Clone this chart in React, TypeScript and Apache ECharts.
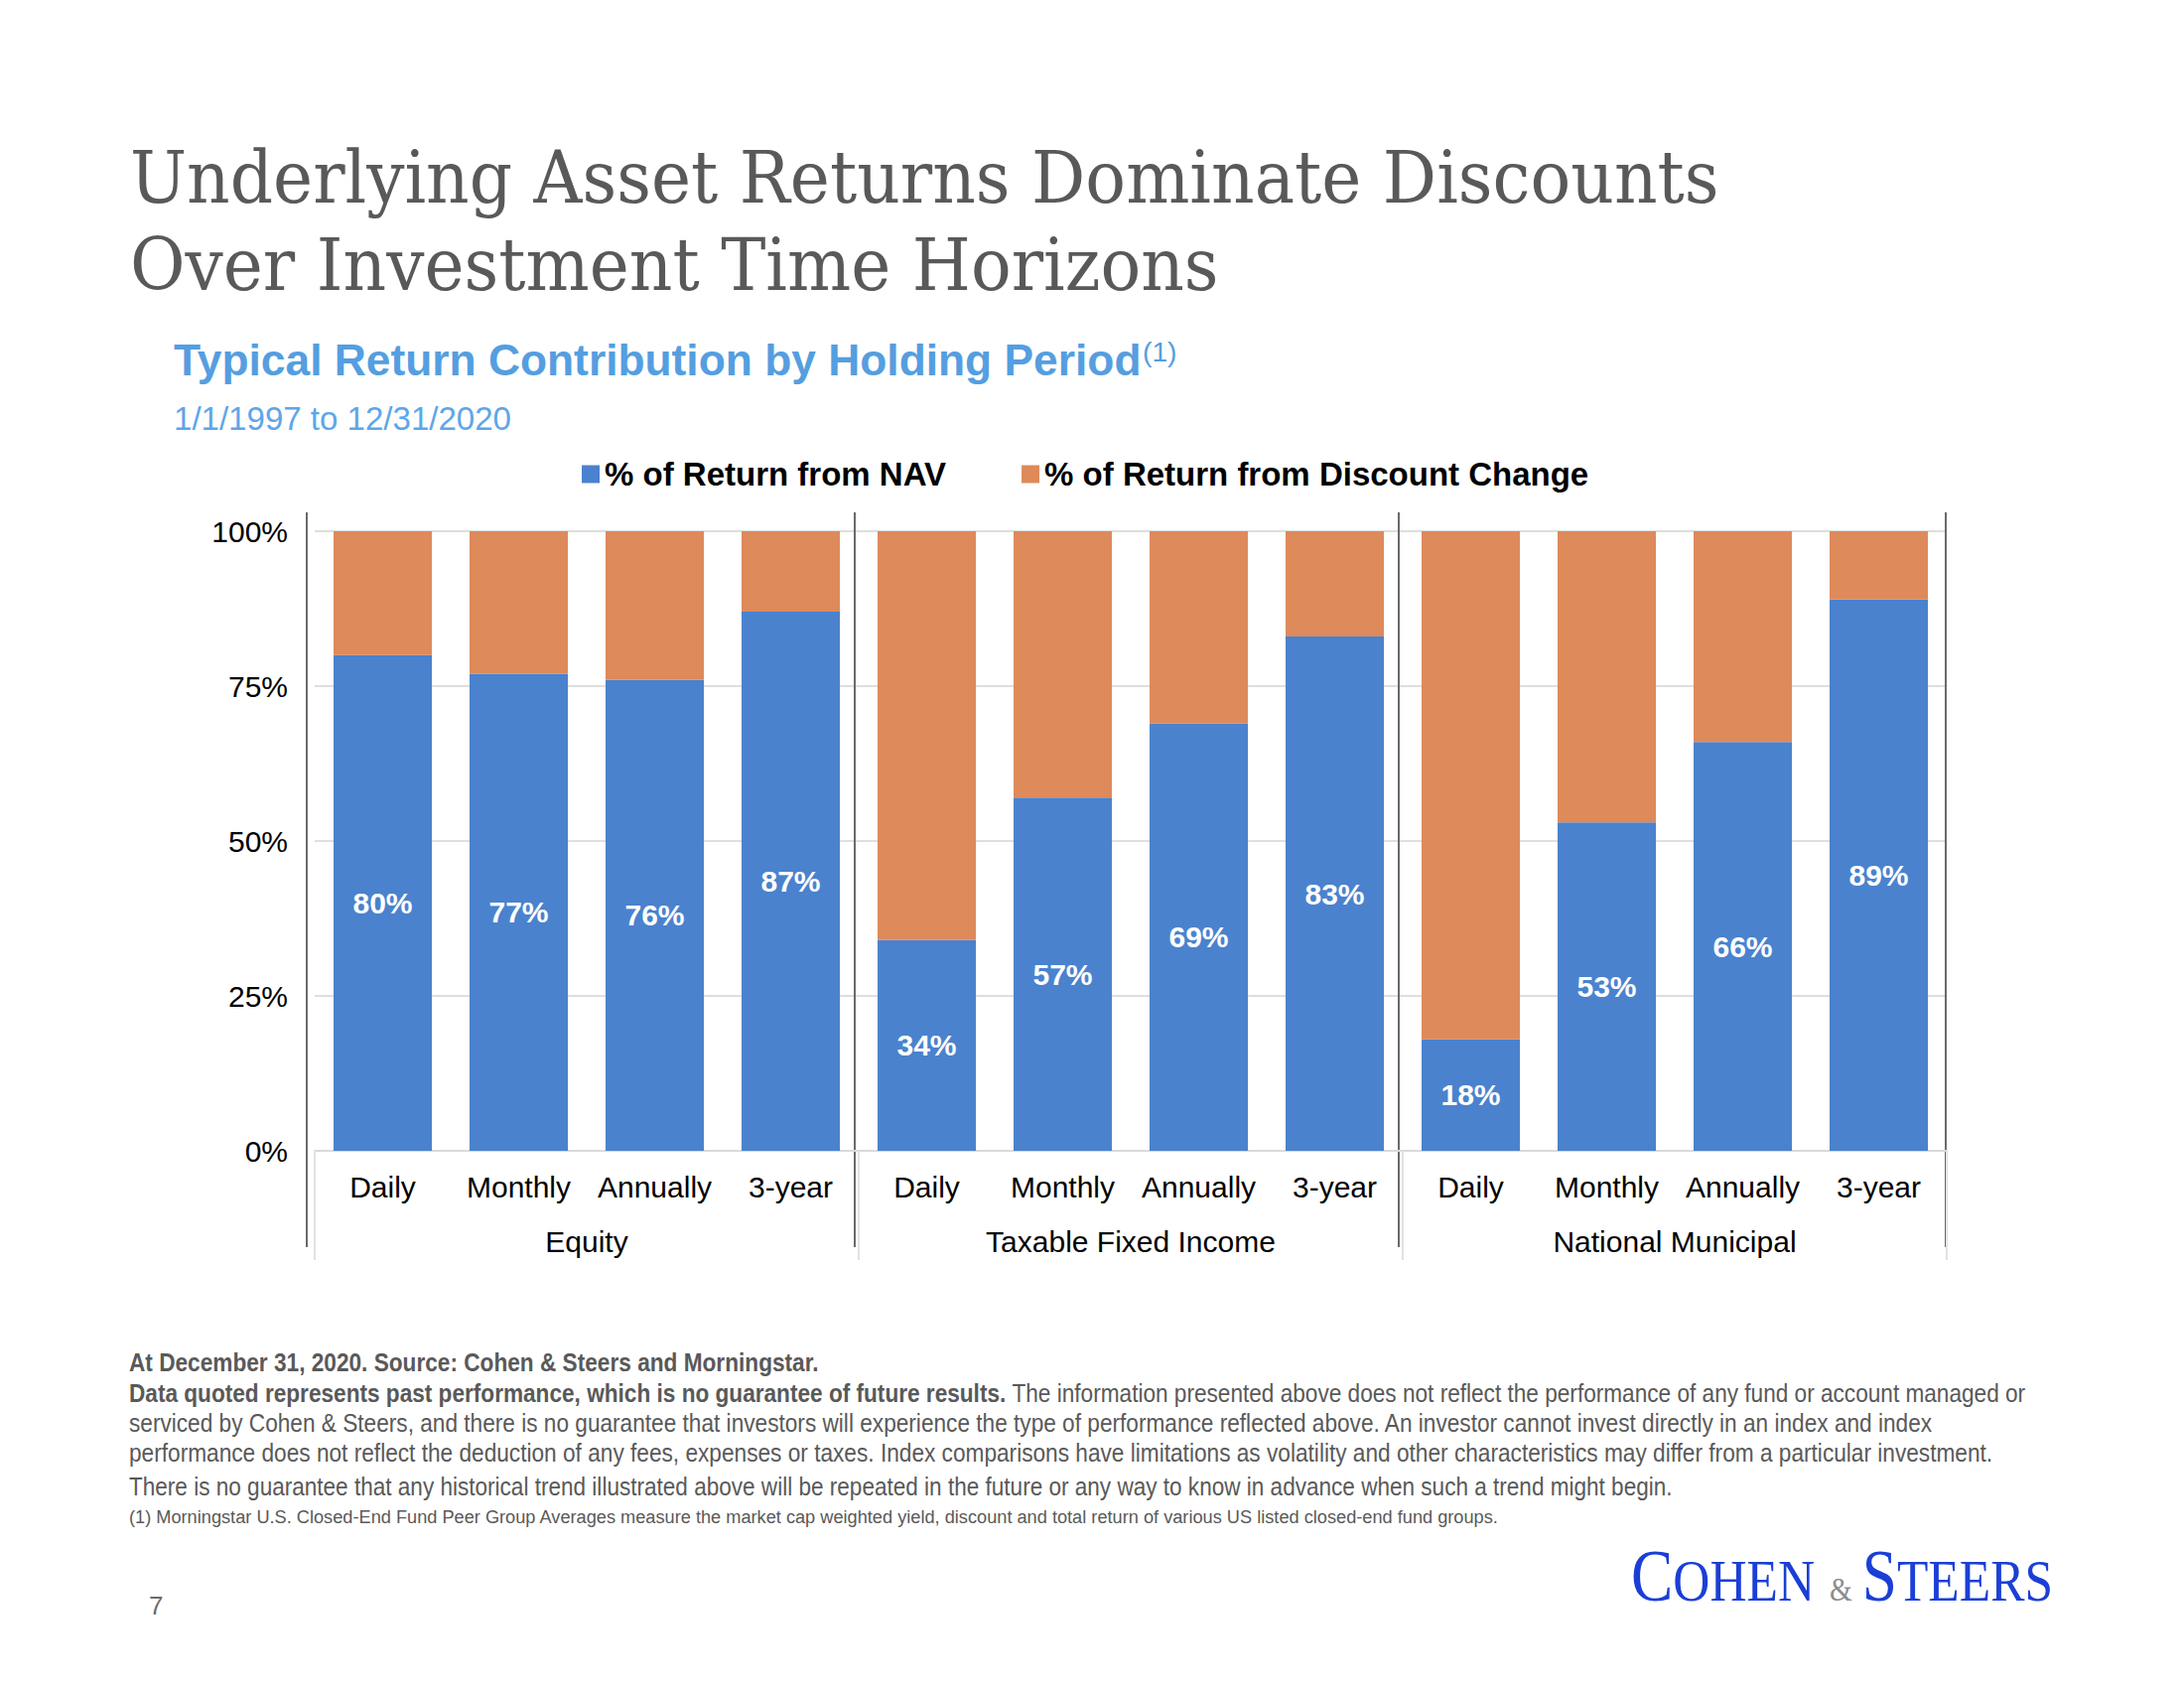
import React, { useEffect, useRef } from "react";
import * as echarts from "echarts";

// ---------- data ----------
const groups = ["Equity", "Taxable Fixed Income", "National Municipal"];
const periods = ["Daily", "Monthly", "Annually", "3-year"];
const navShare = [80, 77, 76, 87, 34, 57, 69, 83, 18, 53, 66, 89];
const discountShare = [20, 23, 24, 13, 66, 43, 31, 17, 82, 47, 34, 11];
const yRange = { min: 0, max: 100, step: 25 };
const seriesNames = ["% of Return from NAV", "% of Return from Discount Change"];

const titleLines = ["Underlying Asset Returns Dominate Discounts", "Over Investment Time Horizons"];
const subtitleText = "Typical Return Contribution by Holding Period";
const subtitleNote = "(1)";
const dateRange = "1/1/1997 to 12/31/2020";
const sourceLine = "At December 31, 2020. Source: Cohen & Steers and Morningstar.";
const disclaimerBold = "Data quoted represents past performance, which is no guarantee of future results.";
const disclaimerLines = [
  " The information presented above does not reflect the performance of any fund or account managed or",
  "serviced by Cohen & Steers, and there is no guarantee that investors will experience the type of performance reflected above. An investor cannot invest directly in an index and index",
  "performance does not reflect the deduction of any fees, expenses or taxes. Index comparisons have limitations as volatility and other characteristics may differ from a particular investment.",
  "There is no guarantee that any historical trend illustrated above will be repeated in the future or any way to know in advance when such a trend might begin.",
];
const noteLine =
  "(1) Morningstar U.S. Closed-End Fund Peer Group Averages measure the market cap weighted yield, discount and total return of various US listed closed-end fund groups.";
const pageNumber = "7";

// ---------- styles ----------
const SANS = "'Liberation Sans', Arial, sans-serif";
const SERIF = "'DejaVu Serif', Georgia, serif";
const LOGO_SERIF = "'Liberation Serif', 'Times New Roman', serif";
const BLUE = "#4A82CE";
const ORANGE = "#DE8A5A";
const GRAY_TEXT = "#595959";

let measureCtx: CanvasRenderingContext2D | null = null;
function textWidth(text: string, font: string): number {
  if (!measureCtx) measureCtx = document.createElement("canvas").getContext("2d");
  measureCtx!.font = font;
  return measureCtx!.measureText(text).width;
}

function textEl(
  text: string,
  x: number,
  y: number,
  size: number,
  family: string,
  fill: string,
  weight: string = "normal",
  scaleX: number = 1,
  extra: any = {}
) {
  return {
    type: "text",
    x,
    y,
    scaleX,
    silent: true,
    style: {
      text,
      fontSize: size,
      fontFamily: family,
      fontWeight: weight,
      fill,
      align: "left",
      verticalAlign: "middle",
      textAlign: "left",
      textVerticalAlign: "middle",
      ...extra,
    },
  };
}

function buildTexts(): any[] {
  const els: any[] = [];
  // Title
  const tFont = `73px 'DejaVu Serif'`;
  const tScale = 1600 / textWidth(titleLines[0], tFont);
  els.push(textEl(titleLines[0], 131, 179, 73, SERIF, GRAY_TEXT, "normal", tScale));
  els.push(textEl(titleLines[1], 131, 267, 73, SERIF, GRAY_TEXT, "normal", tScale));

  // Subtitle
  const sFont = `bold 44px 'Liberation Sans'`;
  const sScale = 975 / textWidth(subtitleText, sFont);
  els.push(textEl(subtitleText, 175, 363, 44, SANS, "#559EE0", "bold", sScale));
  els.push(textEl(subtitleNote, 175 + 975 + 1, 355, 28, SANS, "#559EE0", "normal", sScale));

  // Date range
  const dScale = 340 / textWidth(dateRange, `33px 'Liberation Sans'`);
  els.push(textEl(dateRange, 175, 422, 33, SANS, "#5DA6EA", "normal", dScale));

  // Footnotes
  const fs = 26;
  const bFont = `bold ${fs}px 'Liberation Sans'`;
  const rFont = `${fs}px 'Liberation Sans'`;
  const l1Scale = 695 / textWidth(sourceLine, bFont);
  els.push(textEl(sourceLine, 130, 1372, fs, SANS, GRAY_TEXT, "bold", l1Scale));

  const l2w = textWidth(disclaimerBold, bFont) + textWidth(disclaimerLines[0], rFont);
  const l2Scale = 1911 / l2w;
  els.push({
    type: "text",
    x: 130,
    y: 1403,
    scaleX: l2Scale,
    silent: true,
    style: {
      text: `{b|${disclaimerBold}}{r|${disclaimerLines[0]}}`,
      fontSize: fs,
      fontFamily: SANS,
      fill: GRAY_TEXT,
      align: "left",
      verticalAlign: "middle",
      textAlign: "left",
      textVerticalAlign: "middle",
      rich: {
        b: { fontSize: fs, fontFamily: SANS, fontWeight: "bold", fill: GRAY_TEXT },
        r: { fontSize: fs, fontFamily: SANS, fontWeight: "normal", fill: GRAY_TEXT },
      },
    },
  });
  const targets = [1817, 1878, 1556];
  const ys = [1433, 1463, 1497];
  for (let i = 1; i < disclaimerLines.length; i++) {
    const sc = targets[i - 1] / textWidth(disclaimerLines[i], rFont);
    els.push(textEl(disclaimerLines[i], 130, ys[i - 1], fs, SANS, GRAY_TEXT, "normal", sc));
  }
  const nFont = `19px 'Liberation Sans'`;
  const nScale = 1380 / textWidth(noteLine, nFont);
  els.push(textEl(noteLine, 130, 1527, 19, SANS, GRAY_TEXT, "normal", nScale));

  // Page number
  els.push(textEl(pageNumber, 150, 1617, 26, SANS, "#6b6b6b"));

  // Logo
  const big = 74,
    small = 60,
    amp = 34;
  const wC = textWidth("C", `${big}px 'Liberation Serif'`);
  const wOHEN = textWidth("OHEN", `${small}px 'Liberation Serif'`);
  const wS = textWidth("S", `${big}px 'Liberation Serif'`);
  const wTEERS = textWidth("TEERS", `${small}px 'Liberation Serif'`);
  const wAmp = textWidth("&", `${amp}px 'Liberation Serif'`);
  const gap1 = 15,
    gap2 = 10;
  const lScale = (2068 - 1643 - gap1 - gap2) / (wC + wOHEN + wS + wTEERS + wAmp);
  const base = 1612;
  const mid = (f: number) => base - 0.3375 * f;
  const LB = "#1B3FD6";
  let lx = 1643;
  els.push(textEl("C", lx, mid(big), big, LOGO_SERIF, LB, "normal", lScale));
  lx += wC * lScale;
  els.push(textEl("OHEN", lx, mid(small), small, LOGO_SERIF, LB, "normal", lScale));
  lx += wOHEN * lScale + gap1;
  els.push(textEl("&", lx, mid(amp), amp, LOGO_SERIF, "#8c8c8c", "normal", lScale));
  lx += wAmp * lScale + gap2;
  els.push(textEl("S", lx, mid(big), big, LOGO_SERIF, LB, "normal", lScale));
  lx += wS * lScale;
  els.push(textEl("TEERS", lx, mid(small), small, LOGO_SERIF, LB, "normal", lScale));
  return els;
}

export default function App() {
  const ref = useRef<HTMLDivElement>(null);

  useEffect(() => {
    if (!ref.current) return;
    const chart = echarts.init(ref.current, null, { renderer: "svg" });
    const categories = groups.flatMap((g) => periods.map((p) => `${g}|${p}`));

    const option: any = {
      animation: false,
      textStyle: { fontFamily: SANS },
      legend: {
        data: seriesNames,
        left: 586,
        top: 461,
        padding: 0,
        itemWidth: 18,
        itemHeight: 18,
        itemGap: 76,
        icon: "rect",
        selectedMode: false,
        textStyle: { fontSize: 33, fontWeight: "bold", color: "#000", fontFamily: SANS },
      },
      grid: { left: 317, top: 535, width: 1644, height: 624, containLabel: false },
      xAxis: [
        {
          type: "category",
          data: categories,
          axisLine: { show: true, lineStyle: { color: "#d9d9d9", width: 2 } },
          axisTick: { show: false },
          splitLine: { show: false },
          axisLabel: {
            interval: 0,
            margin: 21,
            fontSize: 30,
            color: "#000",
            fontFamily: SANS,
            formatter: (v: string) => v.split("|")[1],
          },
        },
        {
          type: "category",
          data: groups,
          position: "bottom",
          axisLine: { show: false },
          axisTick: { show: true, length: 110, lineStyle: { color: "#e2e2e2", width: 2 } },
          splitLine: { show: false },
          axisLabel: { interval: 0, margin: 76, fontSize: 30, color: "#000", fontFamily: SANS },
        },
      ],
      yAxis: {
        type: "value",
        min: yRange.min,
        max: yRange.max,
        interval: yRange.step,
        axisLine: { show: false },
        axisTick: { show: false },
        axisLabel: { formatter: "{value}%", fontSize: 30, color: "#000", margin: 27, fontFamily: SANS },
        splitLine: { lineStyle: { color: "#dedede", width: 2 } },
      },
      series: [
        {
          name: seriesNames[0],
          type: "bar",
          stack: "total",
          data: navShare,
          barWidth: 99,
          itemStyle: { color: BLUE },
          label: {
            show: true,
            position: "inside",
            formatter: "{c}%",
            color: "#fff",
            fontSize: 30,
            fontWeight: "bold",
            fontFamily: SANS,
          },
        },
        {
          name: seriesNames[1],
          type: "bar",
          stack: "total",
          data: discountShare,
          barWidth: 99,
          itemStyle: { color: ORANGE },
        },
      ],
    };
    chart.setOption(option);

    // group separators derived from the category axis
    const c0 = chart.convertToPixel({ xAxisIndex: 0 }, categories[0]) as number;
    const c1 = chart.convertToPixel({ xAxisIndex: 0 }, categories[1]) as number;
    const step = c1 - c0;
    const leftEdge = c0 - step / 2;
    const top0 = chart.convertToPixel({ yAxisIndex: 0 }, yRange.max) as number;
    const bottom0 = chart.convertToPixel({ yAxisIndex: 0 }, yRange.min) as number;
    const offsets = [-8, -4, -4, -1];
    const lines = [0, 1, 2, 3].map((k) => {
      const x = leftEdge + k * periods.length * step + offsets[k];
      return {
        type: "line",
        silent: true,
        shape: { x1: x, y1: top0 - 19, x2: x, y2: bottom0 + 97 },
        style: { stroke: "#6a6a6a", lineWidth: 2 },
      };
    });

    chart.setOption({ graphic: [...lines, ...buildTexts()] });

    return () => chart.dispose();
  }, []);

  return (
    <div
      ref={ref}
      style={{ position: "absolute", left: 0, top: 0, width: 2200, height: 1700, background: "#fff" }}
    />
  );
}
